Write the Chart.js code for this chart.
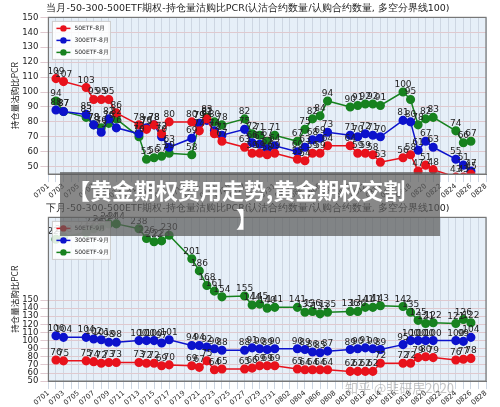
<!DOCTYPE html>
<html><head><meta charset="utf-8">
<script src="https://cdn.jsdelivr.net/npm/chart.js@4"></script>
<style>
body{margin:0;background:#fff;width:500px;height:407px;overflow:hidden;position:relative;font-family:"Noto Sans CJK SC",sans-serif}
canvas{position:absolute;left:0}
#c1{top:0}#c2{top:200px}
#banner{position:absolute;left:60px;top:172px;width:380px;height:64px;background:rgba(90,90,90,0.72);color:#fff;font-weight:bold;font-size:22px;line-height:28px;padding:3px 0 0 8px;box-sizing:border-box}
#wm{position:absolute;left:345px;top:378px;color:rgba(150,150,150,0.55);font-size:13px}
</style></head><body>
<canvas id="c1" width="500" height="200"></canvas>
<canvas id="c2" width="500" height="207"></canvas>
<div id="banner">【黄金期权费用走势,黄金期权交割<br><span style="padding-left:168px">】</span></div>
<div id="wm">知乎 @韭研居2020</div>
<script>
const tradeDays=["0702","0703","0706","0707","0708","0709","0710","0713","0714","0715","0716","0717","0720","0721","0722","0723","0724","0727","0728","0729","0730","0731","0803","0804","0805","0806","0807","0810","0811","0812","0813","0814","0817","0818","0819","0820","0821","0824","0825","0826"];
const red8=[109,107,103,95,95,95,86,78,75,78,72,80,80,74,82,72,67,63,59,59,58,59,55,54,59,59,64,64,59,59,58,53,56,58,47,51,48,43,43,45];
const blue8=[88,87,85,78,73,82,76,72,76,78,70,63,69,79,81,74,71,75,66,65,62,64,60,63,68,69,73,71,70,72,71,70,81,80,61,67,63,55,51,47];
const green8=[94,87,83,78,76,79,82,70,55,56,57,59,58,79,83,80,78,82,72,71,67,71,67,75,82,84,94,90,91,92,92,91,100,95,78,82,83,74,66,67];
const red9=[76,75,75,74,72,73,73,73,72,72,69,70,69,67,75,64,65,65,66,69,69,69,65,64,64,64,64,62,62,62,62,72,72,72,79,80,79,76,77,78];
const blue9=[106,104,104,102,101,98,98,100,100,100,97,101,94,94,92,90,88,88,91,90,89,90,90,89,86,85,87,89,90,91,90,89,95,100,100,100,100,100,99,104];
const green9=[225,228,233,238,240,244,244,238,226,222,223,230,201,186,168,161,154,155,144,145,140,141,141,135,136,133,135,136,136,141,141,143,142,135,125,121,122,121,126,122];
const allDays=[];
for(let d=1;d<=31;d++)allDays.push("07"+String(d).padStart(2,"0"));
for(let d=1;d<=28;d++)allDays.push("08"+String(d).padStart(2,"0"));
function expand(v){const m={};tradeDays.forEach((t,i)=>m[t]=v[i]);return allDays.map(d=>m[d]===undefined?null:m[d]);}
const C={r:'#e8121c',b:'#0c12cc',g:'#17821f'};
const FONT='"DejaVu Sans",sans-serif';
const lblPlugin={id:'lbl',afterDatasetsDraw(ch){const c=ch.ctx;c.save();c.font='9px '+FONT;c.fillStyle='#222';c.textAlign='center';
 ch.data.datasets.forEach((ds,i)=>{ch.getDatasetMeta(i).data.forEach((p,j)=>{const v=ds.data[j];if(v==null)return;c.fillText(v,p.x,p.y-5);});});
 const a=ch.chartArea;const x=a.left+4,y=a.top+4;c.fillStyle='rgba(255,255,255,0.85)';c.strokeStyle='#ccc';c.fillRect(x,y,58,38);c.strokeRect(x,y,58,38);
 ch.data.datasets.forEach((ds,i)=>{const yy=y+7+i*12;c.strokeStyle=ds.borderColor;c.lineWidth=1.5;c.beginPath();c.moveTo(x+4,yy);c.lineTo(x+18,yy);c.stroke();
 c.fillStyle=ds.borderColor;c.beginPath();c.arc(x+11,yy,3.2,0,7);c.fill();c.fillStyle='#222';c.textAlign='left';c.font='6px '+FONT;c.fillText(ds.label,x+22,yy+2);});
 c.restore();}};
const bgPlugin={id:'bg',beforeDraw(ch){const a=ch.chartArea,c=ch.ctx;c.save();c.fillStyle='#e6eff8';c.fillRect(a.left,a.top,a.right-a.left,a.bottom-a.top);c.restore();},
 afterDraw(ch){const a=ch.chartArea,c=ch.ctx;c.save();c.strokeStyle='#777';c.lineWidth=1.2;c.strokeRect(a.left,a.top,a.right-a.left,a.bottom-a.top);c.restore();}};
function make(id,title,data,labels,ymin,ymax){
 new Chart(document.getElementById(id),{type:'line',
 data:{labels:allDays,datasets:data.map((d,i)=>({label:labels[i],data:expand(d),borderColor:[C.r,C.b,C.g][i],backgroundColor:[C.r,C.b,C.g][i],pointRadius:3.8,borderWidth:1.5,spanGaps:true,tension:0}))},
 options:{responsive:false,animation:false,devicePixelRatio:1,layout:{padding:{left:10,right:14,top:0,bottom:0}},
 plugins:{legend:{display:false},tooltip:{enabled:false},title:{display:true,text:title,color:'#222',font:{size:9.5,family:FONT,weight:'normal'},padding:{top:3,bottom:3}}},
 scales:{x:{offset:false,grid:{color:'#cdd6e2'},border:{color:'#777'},ticks:{padding:0,autoSkip:false,maxRotation:40,minRotation:40,color:'#222',font:{size:7,family:FONT},callback:(v,i)=>i%2==0?allDays[i]:''}},
 y:{min:ymin,max:ymax,grid:{color:'#dfc9cf'},border:{color:'#777'},title:{display:true,padding:0,text:'持仓量沽购比PCR',color:'#222',font:{size:8.5,family:'"Noto Sans CJK SC"'}},
 afterBuildTicks:s=>{const t=[];for(let v=50;v<=150;v+=10)t.push({value:v});s.ticks=t;},ticks:{padding:2,color:'#222',font:{size:8.5,family:FONT}}}}},
 plugins:[bgPlugin,lblPlugin]});}
make('c1','当月-50-300-500ETF期权-持仓量沽购比PCR(认沽合约数量/认购合约数量, 多空分界线100)',[red8,blue8,green8],['50ETF-8月','300ETF-8月','500ETF-8月'],45,150);
make('c2','下月-50-300-500ETF期权-持仓量沽购比PCR(认沽合约数量/认购合约数量, 多空分界线100)',[red9,blue9,green9],['50ETF-9月','300ETF-9月','500ETF-9月'],50,252);
</script></body></html>
